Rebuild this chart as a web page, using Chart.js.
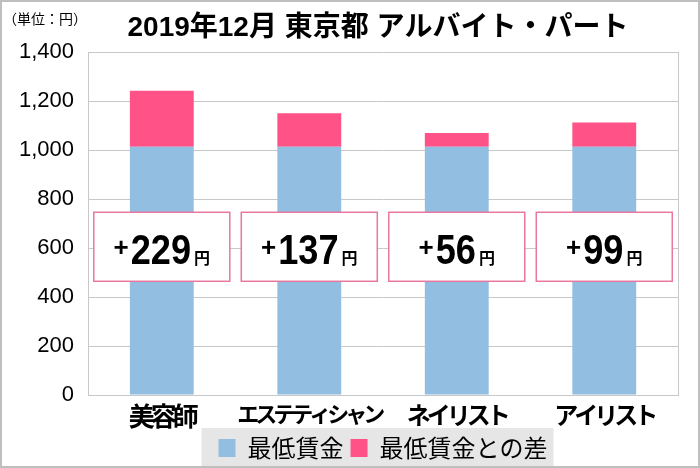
<!DOCTYPE html>
<html lang="ja">
<head>
<meta charset="utf-8">
<title>2019年12月 東京都 アルバイト・パート</title>
<script src="https://cdn.jsdelivr.net/npm/chart.js@4.4.1/dist/chart.umd.min.js"></script>
<style>
  html, body { margin: 0; padding: 0; background: #fff; }
  canvas { display: block; }
</style>
</head>
<body>
<canvas id="wages" width="700" height="468"></canvas>
<script>
const chartTitle = '2019年12月 東京都 アルバイト・パート';
const unitLabel = '（単位：円）';
const jobs = ['美容師', 'エステティシャン', 'ネイリスト', 'アイリスト'];
const minimumWage = [1013, 1013, 1013, 1013];
const wageGap = [229, 137, 56, 99];
const yTicks = [0, 200, 400, 600, 800, 1000, 1200, 1400];
const seriesNames = ['最低賃金', '最低賃金との差'];
const gapLabelLevel = 605;   // y value where the "+xx円" boxes are centred

const JP = '"Noto Sans CJK JP", sans-serif';
const LATIN = '"Liberation Sans", Arial, "Noto Sans CJK JP", sans-serif';
const BLUE = '#92bee1';
const PINK = '#ff5286';
const GRID = '#c8c8c8';

// the x labels use a narrow kana look, so they get negative letter spacing
const tickSize = { '美容師': 26, 'エステティシャン': 22 };

const frame = {
  id: 'frame',
  beforeDraw(chart) {
    const { ctx } = chart;
    ctx.save();
    ctx.fillStyle = '#fff';
    ctx.fillRect(0, 0, chart.width, chart.height);
    // grey panel behind the legend
    const boxes = chart.legend.legendHitBoxes;
    if (boxes && boxes.length) {
      const l = Math.min(...boxes.map(b => b.left)) - 17;
      const r = Math.max(...boxes.map(b => b.left + b.width)) + 6;
      ctx.fillStyle = '#e6e6e6';
      ctx.fillRect(l, 428, r - l, 38);
    }
    ctx.restore();
  },
  afterDatasetsDraw(chart) {
    // only the x tick labels are drawn after this point (ticks.z = 1)
    chart.ctx.letterSpacing = '-4px';
  },
  afterDraw(chart) {
    const { ctx, chartArea, scales: { x, y } } = chart;
    ctx.letterSpacing = '0px';
    ctx.save();

    // right edge of the plot
    ctx.strokeStyle = GRID;
    ctx.lineWidth = 1;
    ctx.beginPath();
    ctx.moveTo(chartArea.right + 0.5, chartArea.top);
    ctx.lineTo(chartArea.right + 0.5, chartArea.bottom);
    ctx.stroke();

    // title and unit
    ctx.fillStyle = '#000';
    ctx.textBaseline = 'middle';
    ctx.textAlign = 'center';
    ctx.font = 'bold 28px ' + LATIN;
    ctx.fillText(chartTitle, 378, 28);
    ctx.textAlign = 'left';
    ctx.font = '14px ' + JP;
    ctx.fillText(unitLabel, 3, 19);

    // "+xx円" boxes
    wageGap.forEach((v, i) => {
      const cx = x.getPixelForValue(i);
      const cy = y.getPixelForValue(gapLabelLevel);
      const w = 136, h = 69;
      ctx.fillStyle = '#fff';
      ctx.fillRect(cx - w / 2, cy - h / 2, w, h);
      ctx.strokeStyle = '#e8789f';
      ctx.lineWidth = 1.5;
      ctx.strokeRect(cx - w / 2, cy - h / 2, w, h);

      const num = String(v);
      const squeeze = 0.86;
      ctx.font = 'bold 26px ' + LATIN;
      const plusW = ctx.measureText('+').width;
      ctx.font = 'bold 42px ' + LATIN;
      const numW = ctx.measureText(num).width * squeeze;
      ctx.font = 'bold 16px ' + JP;
      const yenW = ctx.measureText('円').width;
      const total = plusW + 2 + numW + 3 + yenW;
      let tx = cx - total / 2;
      const base = cy + 17;

      ctx.fillStyle = '#000';
      ctx.textAlign = 'left';
      ctx.textBaseline = 'middle';
      ctx.font = 'bold 26px ' + LATIN;
      ctx.fillText('+', tx, cy + 2);
      tx += plusW + 2;

      ctx.textBaseline = 'alphabetic';
      ctx.save();
      ctx.translate(tx, base);
      ctx.scale(squeeze, 1);
      ctx.font = 'bold 42px ' + LATIN;
      ctx.fillText(num, 0, 0);
      ctx.restore();
      tx += numW + 3;

      ctx.font = 'bold 16px ' + JP;
      ctx.fillText('円', tx, base);
    });

    // outer border
    ctx.strokeStyle = '#bfbfbf';
    ctx.lineWidth = 2;
    ctx.strokeRect(1, 1, chart.width - 2, chart.height - 2);
    ctx.restore();
  }
};

new Chart(document.getElementById('wages'), {
  type: 'bar',
  data: {
    labels: jobs,
    datasets: [
      { label: seriesNames[0], data: minimumWage, backgroundColor: BLUE },
      { label: seriesNames[1], data: wageGap, backgroundColor: PINK }
    ]
  },
  options: {
    responsive: false,
    animation: false,
    layout: { padding: { top: 52, left: 5, right: 22, bottom: -2 } },
    datasets: { bar: { categoryPercentage: 1, barPercentage: 0.433 } },
    scales: {
      x: {
        stacked: true,
        grid: { display: false },
        border: { color: GRID },
        ticks: {
          z: 1,
          color: '#000',
          padding: 0,
          maxRotation: 0,
          autoSkip: false,
          font: c => ({ family: JP, weight: 'bold', size: tickSize[jobs[c.index]] || 24, lineHeight: 1.0 })
        }
      },
      y: {
        stacked: true,
        min: 0,
        max: 1400,
        afterBuildTicks: s => { s.ticks = yTicks.map(v => ({ value: v })); },
        grid: { color: GRID, drawTicks: false },
        border: { color: GRID },
        ticks: {
          color: '#000',
          padding: 14,
          font: { family: LATIN, size: 22 },
          callback: v => v.toLocaleString('en-US')
        }
      }
    },
    plugins: {
      legend: {
        position: 'bottom',
        fullSize: false,
        labels: {
          color: '#000',
          boxWidth: 17,
          boxHeight: 18,
          padding: 7,
          font: { family: JP, size: 24 }
        }
      },
      tooltip: { enabled: false }
    }
  },
  plugins: [frame]
});
</script>
</body>
</html>
